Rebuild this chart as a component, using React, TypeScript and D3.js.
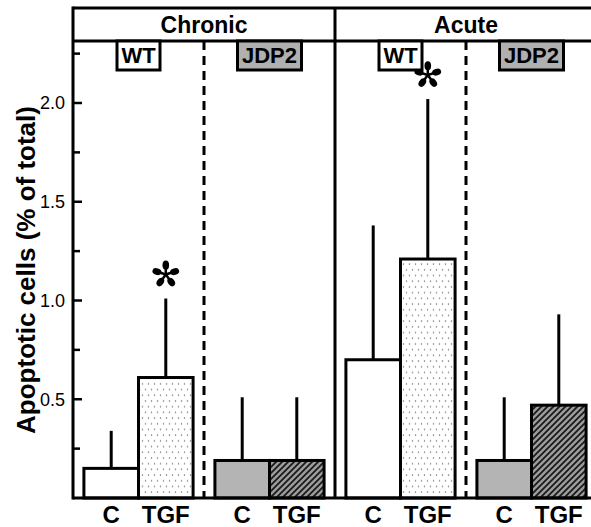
import * as d3 from 'd3'

// values (% apoptotic cells), order: C, TGF
const panels = ['Chronic', 'Acute']
const genotypes = ['WT', 'JDP2']
const treatments = ['C', 'TGF']

const chronicWT = [0.15, 0.61]
const chronicWTSd = [0.19, 0.4]
const chronicJDP2 = [0.19, 0.19]
const chronicJDP2Sd = [0.32, 0.32]
const acuteWT = [0.7, 1.21]
const acuteWTSd = [0.68, 0.81]
const acuteJDP2 = [0.19, 0.47]
const acuteJDP2Sd = [0.32, 0.46]

const majorTicks = [0.5, 1.0, 1.5, 2.0]
const minorTicks = [0.25, 0.75, 1.25, 1.75, 2.25]
const starred = ['Chronic-WT-TGF', 'Acute-WT-TGF']

const means: Record<string, number[]> = {
  'Chronic-WT': chronicWT,
  'Chronic-JDP2': chronicJDP2,
  'Acute-WT': acuteWT,
  'Acute-JDP2': acuteJDP2,
}
const sds: Record<string, number[]> = {
  'Chronic-WT': chronicWTSd,
  'Chronic-JDP2': chronicJDP2Sd,
  'Acute-WT': acuteWTSd,
  'Acute-JDP2': acuteJDP2Sd,
}

const font = '"Liberation Sans", Arial, sans-serif'
const W = 591
const H = 527

const fillFor = (g: string, t: string) => {
  if (g === 'WT') return t === 'C' ? '#ffffff' : 'url(#dots)'
  return t === 'C' ? '#b4b4b4' : 'url(#hatch)'
}

function Star({ x, y }: { x: number; y: number }) {
  const arms = d3.range(5).map((i) => -90 + i * 72)
  return (
    <g transform={`translate(${x},${y})`}>
      {arms.map((a) => (
        <g key={a} transform={`rotate(${a})`}>
          <line x1={0} y1={0} x2={8} y2={0} stroke="#000" strokeWidth={2.5} />
          <ellipse cx={9.3} cy={0} rx={4.6} ry={3.3} fill="#000" />
        </g>
      ))}
    </g>
  )
}

export default function App() {
  const left = 73
  const top = 8
  const headerY = 41
  const baseY = 498

  const y = d3.scaleLinear().domain([0, 2]).range([baseY, 103])
  const panelX = d3.scaleBand().domain(panels).range([left, 597])
  const genoX = d3.scaleBand().domain(genotypes).range([0, panelX.bandwidth()])
  const treatX = d3
    .scaleBand()
    .domain(treatments)
    .range([0, genoX.bandwidth()])
    .paddingInner(0)
    .paddingOuter(0.2)

  const bars = panels.flatMap((p) =>
    genotypes.flatMap((g) =>
      treatments.map((t, i) => {
        const key = `${p}-${g}`
        const x0 = (panelX(p) as number) + (genoX(g) as number) + (treatX(t) as number)
        return {
          id: `${key}-${t}`,
          p,
          g,
          t,
          x: x0,
          w: treatX.bandwidth(),
          v: means[key][i],
          sd: sds[key][i],
        }
      })
    )
  )

  const genoBoxW: Record<string, number> = { WT: 43, JDP2: 64 }

  return (
    <svg width={W} height={H} style={{ position: 'absolute', left: 0, top: 0, background: '#fff' }}>
      <defs>
        <pattern id="dots" patternUnits="userSpaceOnUse" width={6} height={11.4}>
          <rect width={6} height={11.4} fill="#fff" />
          <circle cx={1.5} cy={2} r={0.75} fill="#777" />
          <circle cx={4.5} cy={7.7} r={0.75} fill="#777" />
        </pattern>
        <pattern id="hatch" patternUnits="userSpaceOnUse" width={6} height={6}>
          <rect width={6} height={6} fill="#9c9c9c" />
          <path d="M0,6 L6,0 M-1.5,1.5 L1.5,-1.5 M4.5,7.5 L7.5,4.5" stroke="#1a1a1a" strokeWidth={1.8} />
        </pattern>
      </defs>

      {/* y axis title */}
      <text
        transform={`translate(35,${(107 + 433) / 2}) rotate(-90)`}
        textAnchor="middle"
        fontFamily={font}
        fontWeight="bold"
        fontSize={26}
      >
        Apoptotic cells (% of total)
      </text>

      {/* bars */}
      {bars.map((b) => (
        <g key={b.id}>
          <line
            x1={b.x + b.w / 2}
            x2={b.x + b.w / 2}
            y1={y(b.v)}
            y2={y(b.v + b.sd)}
            stroke="#000"
            strokeWidth={3}
          />
          <rect
            x={b.x}
            y={y(b.v)}
            width={b.w}
            height={baseY - y(b.v)}
            fill={fillFor(b.g, b.t)}
            stroke="#000"
            strokeWidth={3}
          />
          {starred.includes(b.id) && <Star x={b.x + b.w / 2} y={y(b.v + b.sd) - 24} />}
          <text
            x={b.x + b.w / 2}
            y={523}
            textAnchor="middle"
            fontFamily={font}
            fontWeight="bold"
            fontSize={24}
          >
            {b.t}
          </text>
        </g>
      ))}

      {/* dashed genotype separators */}
      {panels.map((p) => {
        const x = (panelX(p) as number) + (genoX('JDP2') as number)
        return (
          <line
            key={p}
            x1={x}
            x2={x}
            y1={headerY}
            y2={baseY}
            stroke="#000"
            strokeWidth={3}
            strokeDasharray="9,6"
          />
        )
      })}

      {/* frame */}
      <g stroke="#000" strokeWidth={3} fill="none">
        <line x1={left} x2={W} y1={top} y2={top} />
        <line x1={left} x2={W} y1={headerY} y2={headerY} />
        <line x1={left} x2={W} y1={baseY} y2={baseY} />
        <line x1={left} x2={left} y1={top - 1.5} y2={baseY + 1.5} />
        <line x1={panelX('Acute')} x2={panelX('Acute')} y1={top} y2={baseY} />
      </g>

      {/* ticks */}
      {majorTicks.map((t) => (
        <g key={t}>
          <line x1={left} x2={left + 9} y1={y(t)} y2={y(t)} stroke="#000" strokeWidth={2.5} />
          <text x={65} y={y(t)} dy="0.35em" textAnchor="end" fontFamily={font} fontSize={18}>
            {d3.format('.1f')(t)}
          </text>
        </g>
      ))}
      {minorTicks.map((t) => (
        <line key={t} x1={left} x2={left + 7} y1={y(t)} y2={y(t)} stroke="#000" strokeWidth={2.5} />
      ))}

      {/* panel headers */}
      {panels.map((p) => (
        <text
          key={p}
          x={(panelX(p) as number) + panelX.bandwidth() / 2}
          y={33}
          textAnchor="middle"
          fontFamily={font}
          fontWeight="bold"
          fontSize={23}
        >
          {p}
        </text>
      ))}

      {/* genotype boxes */}
      {panels.flatMap((p) =>
        genotypes.map((g) => {
          const cx = (panelX(p) as number) + (genoX(g) as number) + genoX.bandwidth() / 2
          const bw = genoBoxW[g]
          return (
            <g key={`${p}-${g}`}>
              <rect
                x={cx - bw / 2}
                y={headerY}
                width={bw}
                height={29}
                fill={g === 'WT' ? '#fff' : '#b0b0b0'}
                stroke="#000"
                strokeWidth={3}
              />
              <text x={cx} y={63} textAnchor="middle" fontFamily={font} fontWeight="bold" fontSize={22}>
                {g}
              </text>
            </g>
          )
        })
      )}
    </svg>
  )
}
